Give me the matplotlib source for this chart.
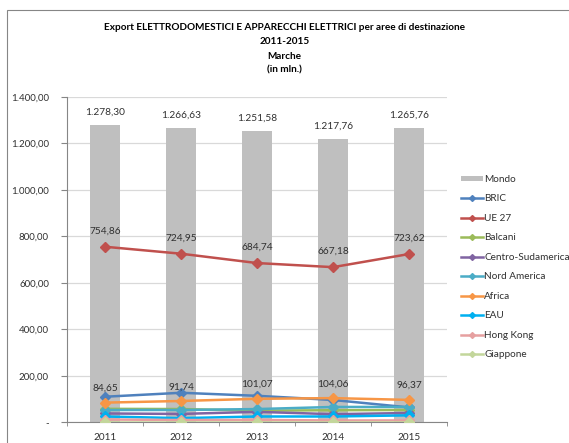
import matplotlib.pyplot as plt
from matplotlib.patches import Rectangle
from matplotlib.ticker import FuncFormatter, FixedLocator

plt.rcParams['font.family'] = ['Lato', 'DejaVu Sans']

years = ['2011', '2012', '2013', '2014', '2015']
mondo = [1278.30, 1266.63, 1251.58, 1217.76, 1265.76]
bric = [110, 127, 114, 96, 64]
ue27 = [754.86, 724.95, 684.74, 667.18, 723.62]
balcani = [58, 57, 50, 52, 53]
centro_sud = [38, 36, 45, 35, 40]
nord_america = [53, 53, 57, 66, 66]
africa = [84.65, 91.74, 101.07, 104.06, 96.37]
eau = [25, 18, 25, 25, 30]
hong_kong = [12, 10, 10, 8, 8]
giappone = [3, 3, 3, 3, 3]

series = [
    ('BRIC', bric, '#4F81BD'),
    ('UE 27', ue27, '#C0504D'),
    ('Balcani', balcani, '#9BBB59'),
    ('Centro-Sudamerica', centro_sud, '#8064A2'),
    ('Nord America', nord_america, '#4BACC6'),
    ('Africa', africa, '#F79646'),
    ('EAU', eau, '#00B0F0'),
    ('Hong Kong', hong_kong, '#E6A0A0'),
    ('Giappone', giappone, '#C3D69B'),
]


def it_fmt(v, pos=None):
    if v == 0:
        return '-'
    s = '{:,.2f}'.format(v)
    return s.replace(',', 'X').replace('.', ',').replace('X', '.')


fig = plt.figure(figsize=(5.69, 4.43), dpi=100)
ax = fig.add_axes([0.1178, 0.0467, 0.668, 0.735])

x = list(range(len(years)))
ax.bar(x, mondo, width=0.4, color='#BFBFBF', label='Mondo', zorder=2)
for xi, v in zip(x, mondo):
    ax.annotate(it_fmt(v), (xi, v), xytext=(0, 6), textcoords='offset points',
                ha='center', va='bottom', fontsize=7.3, color='#303030')

for name, vals, col in series:
    ax.plot(x, vals, color=col, lw=1.8, marker='D', ms=5, label=name, zorder=3)

for xi, v in zip(x, ue27):
    ax.annotate(it_fmt(v), (xi, v), xytext=(0, 8), textcoords='offset points',
                ha='center', va='bottom', fontsize=7.3, color='#303030')
for xi, v in zip(x, africa):
    ax.annotate(it_fmt(v), (xi, v), xytext=(0, 7), textcoords='offset points',
                ha='center', va='bottom', fontsize=7.3, color='#303030')

ax.set_xlim(-0.5, 4.5)
ax.set_ylim(0, 1400)
ax.set_yticks(range(0, 1401, 200))
ax.yaxis.set_major_formatter(FuncFormatter(it_fmt))
ax.set_xticks(x)
ax.set_xticklabels(years)
ax.xaxis.set_minor_locator(FixedLocator([i - 0.5 for i in range(6)]))
ax.tick_params(axis='x', which='major', length=0, pad=8, labelsize=7.2, colors='#303030')
ax.tick_params(axis='x', which='minor', length=3, color='#868686')
ax.tick_params(axis='y', length=4, color='#868686', pad=9, labelsize=7.0, colors='#303030')
ax.grid(axis='y', color='#D9D9D9', lw=0.9, zorder=0)
ax.set_axisbelow(True)
for s in ['top', 'right']:
    ax.spines[s].set_visible(False)
for s in ['left', 'bottom']:
    ax.spines[s].set_color('#868686')
    ax.spines[s].set_linewidth(0.8)

handles, labels = ax.get_legend_handles_labels()
order = [labels.index('Mondo')] + [i for i, l in enumerate(labels) if l != 'Mondo']
leg = fig.legend([handles[i] for i in order], [labels[i] for i in order],
                 loc='upper left', bbox_to_anchor=(0.811, 0.605), frameon=False,
                 fontsize=7.2, handlelength=2.2, handleheight=0.5, handletextpad=0.1,
                 labelspacing=1.05, borderaxespad=0, borderpad=0, markerscale=0.6)
for t in leg.get_texts():
    t.set_color('#303030')

fig.text(0.5, 0.948, 'Export ELETTRODOMESTICI E APPARECCHI ELETTRICI per aree di destinazione\n2011-2015\nMarche\n(in mln.)',
         ha='center', va='top', fontsize=7.2, fontweight='bold', linespacing=1.75)

fig.patches.append(Rectangle((6.5 / 569, -0.1), 1.2, 1.1 - 10 / 443, transform=fig.transFigure,
                             fill=False, edgecolor='#868686', lw=0.8))

fig.savefig('out.png', dpi=100)
